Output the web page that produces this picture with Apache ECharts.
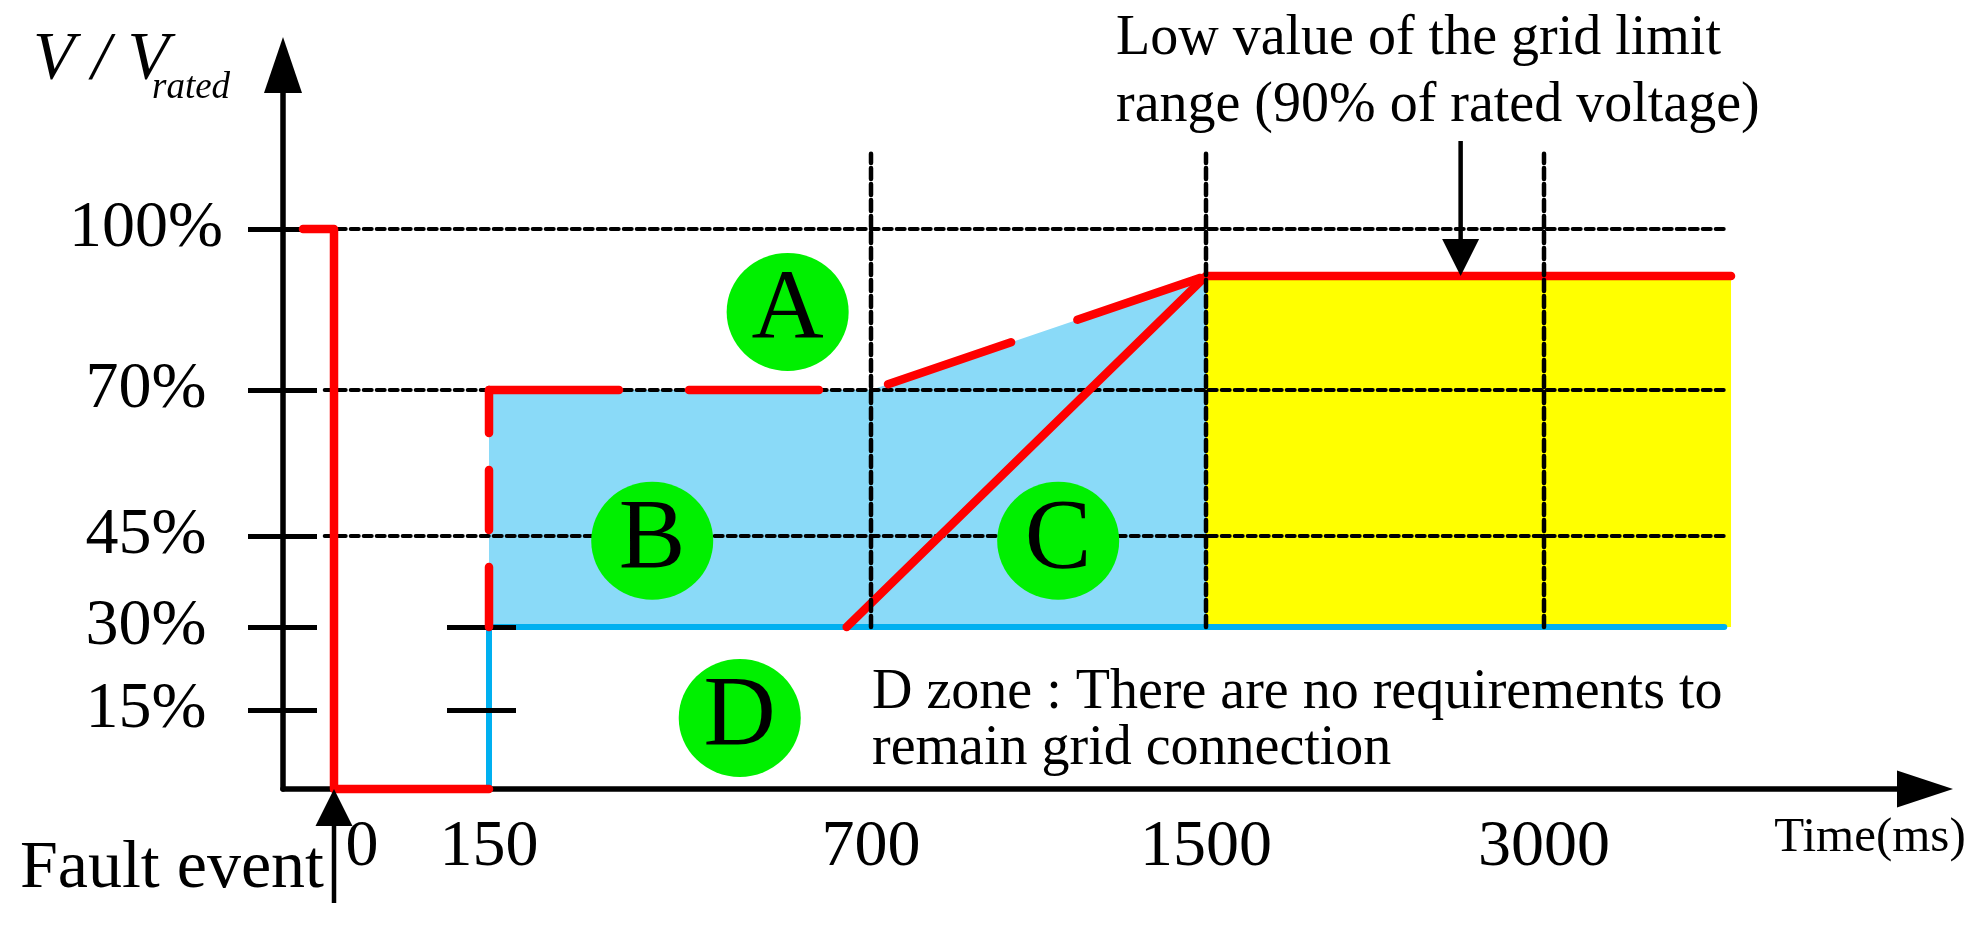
<!DOCTYPE html>
<html>
<head>
<meta charset="utf-8">
<script src="https://cdn.jsdelivr.net/npm/echarts@6/dist/echarts.min.js"></script>
<style>html,body{margin:0;padding:0;background:#fff}#c{width:1974px;height:938px}</style>
</head>
<body>
<div id="c"></div>
<script>
// ---------------- data (time in ms, voltage in % of rated) ----------------
const timeTicksMs = [0, 150, 700, 1500, 3000];
const timeTickLabels = ['0', '150', '700', '1500', '3000'];
const voltTicksPct = [15, 30, 45, 70, 100];
const voltTickLabels = ['15%', '30%', '45%', '70%', '100%'];
const gridLevelsPct = [45, 70, 100];
const gridTimesMs = [700, 1500, 3000];
const faultTrace = [[-30, 100], [0, 100], [0, 0], [150, 0]];
const dashedStep = [[150, 30], [150, 70]];
const dashedUpper = [[150, 70], [700, 70], [1500, 90]];
const rampAndLimit = [[665, 30], [1500, 90], [3830, 90]];
const zoneDFloor = [[150, 0], [150, 30], [3800, 30]];
const zoneBCArea = [[150, 30], [150, 70], [700, 70], [1500, 90], [1500, 30]];
const normalArea = [[1500, 30], [1500, 90], [3830, 90], [3830, 30]];
const zoneNames = ['A', 'B', 'C', 'D'];
const zoneTimeMs = [580, 385, 1147, 511];
const zoneLevelPct = [83.7, 44.2, 44.2, 13.5];
const limitArrowMs = 2630, limitLevelPct = 90;
const gridStartMs = -9, gridEndMs = 3800, vGridTopPct = 116;

// ---------------- schematic (non-uniform) axis scales ----------------
const X_MS = [0, 150, 700, 1500, 3000], X_PX = [51, 206, 588, 923, 1261];
const Y_PCT = [0, 15, 30, 45, 70, 90, 100], Y_PX = [0, 79, 162, 253, 399, 513, 560];
function piece(v, ks, ps) {
  let i = 0;
  if (v >= ks[ks.length - 1]) i = ks.length - 2;
  else if (v > ks[0]) { while (v > ks[i + 1]) i++; }
  return ps[i] + (v - ks[i]) * (ps[i + 1] - ps[i]) / (ks[i + 1] - ks[i]);
}
const mx = t => piece(t, X_MS, X_PX);
const my = v => piece(v, Y_PCT, Y_PX);
const pt = p => [mx(p[0]), my(p[1])];

const FONT = '"Liberation Serif", "Times New Roman", serif';
const RED = '#ff0000', BLUE = '#00b0f0', LIGHTBLUE = '#8adaf8', YELLOW = '#ffff00', GREEN = '#00f000';

function lineSeries(points, color, width, dash, z) {
  return {
    type: 'line', data: points.map(pt), showSymbol: false, symbol: 'none', silent: true, z: z,
    clip: false, animation: false,
    lineStyle: { color: color, width: width, type: dash || 'solid', cap: 'round', join: 'round' }
  };
}
function areaSeries(poly, color, z) {
  return {
    type: 'custom', z: z, silent: true, data: [[0, 0]], animation: false,
    renderItem: (params, api) => ({
      type: 'polygon',
      shape: { points: poly.map(p => api.coord(pt(p))) },
      style: { fill: color }
    })
  };
}

const series = [];
series.push(areaSeries(zoneBCArea, LIGHTBLUE, 1));
series.push(areaSeries(normalArea, YELLOW, 1));
gridLevelsPct.forEach(v => series.push(lineSeries([[gridStartMs, v], [gridEndMs, v]], '#000', 4, [8, 5], 2)));
series.push(lineSeries(zoneDFloor, BLUE, 6, 'solid', 3));
series.push(lineSeries(faultTrace, RED, 8.5, 'solid', 5));
series.push(lineSeries(dashedStep, RED, 8.5, [60, 37], 5));
series.push(lineSeries(dashedUpper, RED, 8.5, [130, 70], 5));
series.push(lineSeries(rampAndLimit, RED, 8.5, 'solid', 5));
gridTimesMs.forEach(t => series.push(lineSeries([[t, 30], [t, vGridTopPct]], '#000', 4.5, [11, 5], 6)));
series.push({
  type: 'scatter', z: 7, silent: true, animation: false,
  symbol: 'circle', symbolSize: [122, 118],
  itemStyle: { color: GREEN, opacity: 1 },
  label: { show: true, position: 'inside', formatter: '{b}', color: '#000', fontSize: 100, fontFamily: FONT },
  data: zoneNames.map((n, i) => ({ name: n, value: pt([zoneTimeMs[i], zoneLevelPct[i]]) }))
});

const yLabelFmt = v => {
  const i = voltTicksPct.findIndex(p => Math.abs(my(p) - v) < 0.5);
  return i >= 0 ? voltTickLabels[i] : '';
};
const xLabelFmt = v => {
  const i = timeTicksMs.findIndex(t => Math.abs(mx(t) - v) < 0.5);
  if (i < 0) return '';
  return i === 0 ? '{z|' + timeTickLabels[i] + '}' : '{n|' + timeTickLabels[i] + '}';
};

const yBase = { type: 'value', position: 'left', min: 0, max: 696, splitLine: { show: false } };

const chart = echarts.init(document.getElementById('c'), null, { renderer: 'canvas' });
chart.setOption({
  animation: false,
  backgroundColor: '#fff',
  grid: { left: 283, top: 93, right: 77, bottom: 149, containLabel: false, outerBoundsMode: 'none' },
  xAxis: {
    type: 'value', min: 0, max: 1614, splitLine: { show: false },
    axisLine: { show: true, onZero: false, symbol: ['none', 'triangle'], symbolSize: [37, 56], symbolOffset: [0, 28],
      lineStyle: { color: '#000', width: 5.5 } },
    axisTick: { show: false },
    axisLabel: {
      show: true, customValues: timeTicksMs.map(mx), formatter: xLabelFmt, margin: 26,
      color: '#000', fontSize: 66, fontFamily: FONT,
      rich: {
        z: { fontSize: 66, fontFamily: FONT, color: '#000', padding: [0, 0, 0, 56] },
        n: { fontSize: 66, fontFamily: FONT, color: '#000' }
      }
    }
  },
  yAxis: [
    Object.assign({}, yBase, {
      axisLine: { show: true, onZero: false, symbol: ['none', 'triangle'], symbolSize: [38, 56], symbolOffset: [0, 28],
        lineStyle: { color: '#000', width: 5.5 } },
      axisTick: { show: false }, axisLabel: { show: false }
    }),
    Object.assign({}, yBase, {
      offset: -34,
      axisLine: { show: false, onZero: false },
      axisTick: { show: true, inside: false, length: 69, customValues: voltTicksPct.map(my), lineStyle: { color: '#000', width: 5 } },
      axisLabel: { show: true, customValues: voltTicksPct.map(my), formatter: yLabelFmt, margin: 171, align: 'center',
        color: '#000', fontSize: 66, fontFamily: FONT }
    }),
    Object.assign({}, yBase, {
      offset: -233, z: 4,
      axisLine: { show: false, onZero: false },
      axisTick: { show: true, inside: false, length: 69, customValues: [15, 30].map(my), lineStyle: { color: '#000', width: 5 } },
      axisLabel: { show: false }
    })
  ],
  series: series
});

// ---------------- annotations (anchored through the axis scales) ----------------
const toPx = p => chart.convertToPixel({ xAxisIndex: 0, yAxisIndex: 0 }, pt(p));
const faultTip = toPx([0, 0]);
const limitTip = toPx([limitArrowMs, limitLevelPct]);
function arrowEls(x, yTip, len, headLen, headW, dir) {
  const yTail = yTip - dir * len;
  const yBaseHead = yTip - dir * headLen;
  return [
    { type: 'line', z: 20, shape: { x1: x, y1: yTail, x2: x, y2: yBaseHead }, style: { stroke: '#000', lineWidth: 4.5 } },
    { type: 'polygon', z: 20, shape: { points: [[x, yTip], [x - headW / 2, yBaseHead], [x + headW / 2, yBaseHead]] }, style: { fill: '#000' } }
  ];
}
function txt(text, x, y, size, align, italic) {
  return { type: 'text', z: 20, style: { text: text, x: x, y: y, fontSize: size, fontFamily: FONT, fontStyle: italic ? 'italic' : 'normal',
    fill: '#000', align: align, verticalAlign: 'middle', textAlign: align, textVerticalAlign: 'middle' } };
}
chart.setOption({
  graphic: [].concat(
    arrowEls(faultTip[0], faultTip[1], 114, 37, 37, -1),
    arrowEls(limitTip[0], limitTip[1], 135, 37, 37, 1),
    [
      txt('V / V', 33, 60, 68, 'left', true),
      txt('rated', 152, 88, 37, 'left', true),
      txt('Fault event', 324, 869, 68, 'right', false),
      txt('Time(ms)', 1870, 838, 49, 'center', false),
      txt('Low value of the grid limit', 1116, 39, 56, 'left', false),
      txt('range (90% of rated voltage)', 1116, 106, 56, 'left', false),
      txt('D zone : There are no requirements to', 872, 693, 56, 'left', false),
      txt('remain grid connection', 872, 749, 56, 'left', false)
    ]
  )
});
</script>
</body>
</html>
